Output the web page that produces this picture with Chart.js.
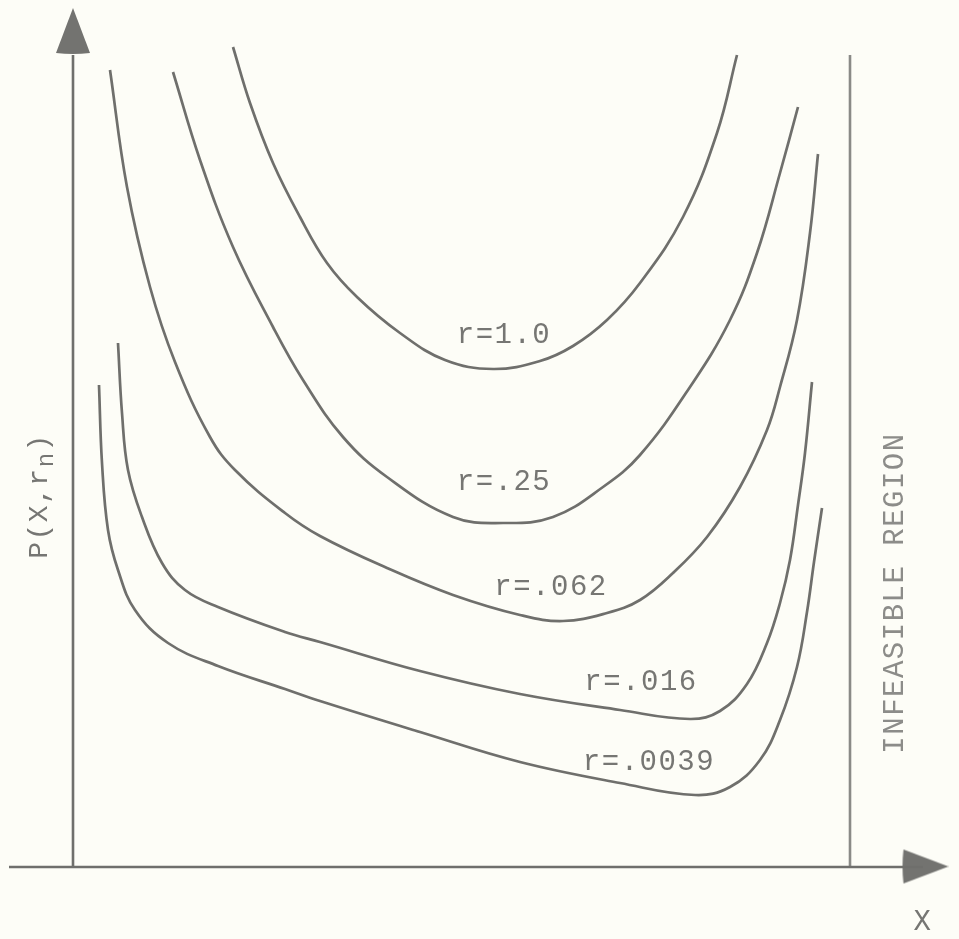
<!DOCTYPE html>
<html>
<head>
<meta charset="utf-8">
<script src="https://cdn.jsdelivr.net/npm/chart.js@4/dist/chart.umd.min.js"></script>
<style>
  html, body { margin: 0; padding: 0; background: #fdfdf7; }
  canvas { display: block; }
</style>
</head>
<body>
<canvas id="c" width="959" height="939"></canvas>
<script>
// Units: x measured from the P-axis, y measured up from the X-axis (arbitrary units, no ticks shown)
const seriesNames = ["r=1.0", "r=.25", "r=.062", "r=.016", "r=.0039"];

const xR1 = [1.60, 1.77, 2.00, 2.27, 2.54, 2.84, 3.27, 3.72, 4.20, 4.67, 5.00, 5.34, 5.67, 6.10, 6.44, 6.64];
const yR1 = [8.20, 7.64, 7.04, 6.50, 6.04, 5.70, 5.34, 5.07, 4.98, 5.06, 5.21, 5.47, 5.84, 6.50, 7.34, 8.12];

const xR25 = [1.00, 1.27, 1.60, 2.00, 2.30, 2.70, 3.14, 3.80, 4.30, 4.80, 5.30, 5.67, 6.17, 6.57, 6.84, 7.07, 7.25];
const yR25 = [7.95, 7.07, 6.20, 5.40, 4.87, 4.30, 3.90, 3.50, 3.44, 3.50, 3.80, 4.12, 4.80, 5.47, 6.14, 6.94, 7.60];

const xR062 = [0.37, 0.54, 0.77, 1.02, 1.37, 1.62, 2.12, 2.47, 3.14, 3.80, 4.47, 4.90, 5.34, 5.67, 6.00, 6.34, 6.67, 6.94, 7.07, 7.24, 7.37, 7.45];
const yR062 = [7.97, 6.80, 5.80, 5.05, 4.30, 3.97, 3.54, 3.31, 2.99, 2.72, 2.52, 2.46, 2.54, 2.67, 2.94, 3.30, 3.80, 4.37, 4.80, 5.47, 6.34, 7.13];

const xR016 = [0.45, 0.49, 0.55, 0.69, 0.89, 1.12, 1.45, 2.12, 2.47, 3.47, 4.47, 5.47, 6.17, 6.47, 6.74, 6.94, 7.07, 7.17, 7.25, 7.32, 7.39];
const yR016 = [5.24, 4.54, 3.97, 3.50, 3.04, 2.77, 2.60, 2.35, 2.25, 1.96, 1.73, 1.57, 1.48, 1.56, 1.83, 2.24, 2.64, 3.07, 3.62, 4.14, 4.85];

const xR0039 = [0.26, 0.29, 0.35, 0.45, 0.62, 0.95, 1.45, 2.12, 2.47, 3.47, 4.47, 5.47, 6.22, 6.57, 6.87, 7.07, 7.24, 7.34, 7.41, 7.49];
const yR0039 = [4.82, 4.04, 3.37, 2.97, 2.57, 2.24, 2.01, 1.78, 1.66, 1.35, 1.05, 0.84, 0.72, 0.80, 1.07, 1.47, 2.00, 2.55, 3.05, 3.59];

// curve label anchors (centre of text)
const labelX = [4.31, 4.31, 4.78, 5.68, 5.76];
const labelY = [5.32, 3.85, 2.80, 1.85, 1.05];

// axes / boundary
const boundaryX = 7.77;
const axisTop = 8.12;
const xAxisEnd = 8.50;

const lineColor = "#6f6f6c";
const textColor = "#767673";

// arrowhead image
const arrow = document.createElement("canvas");
arrow.width = 36; arrow.height = 47;
(function () {
  const a = arrow.getContext("2d");
  a.fillStyle = "#737370";
  a.beginPath();
  a.moveTo(18, 0);
  a.lineTo(35, 45);
  a.quadraticCurveTo(18, 47, 1, 45);
  a.closePath();
  a.fill();
})();

function pts(xs, ys) { return xs.map((x, i) => ({ x: x, y: ys[i] })); }

const curveData = [pts(xR1, yR1), pts(xR25, yR25), pts(xR062, yR062), pts(xR016, yR016), pts(xR0039, yR0039)];

const datasets = curveData.map((d, i) => ({
  label: seriesNames[i],
  data: d,
  showLine: true,
  borderColor: lineColor,
  borderWidth: 2.7,
  pointRadius: 0,
  tension: 0.4,
  fill: false,
  clip: false
}));

// P axis
datasets.push({ label: "yaxis", data: [{ x: 0, y: 0 }, { x: 0, y: axisTop }], showLine: true,
  borderColor: lineColor, borderWidth: 2.6, pointRadius: 0, clip: false });
// X axis
datasets.push({ label: "xaxis", data: [{ x: -0.64, y: 0 }, { x: xAxisEnd, y: 0 }], showLine: true,
  borderColor: lineColor, borderWidth: 2.6, pointRadius: 0, clip: false });
// feasibility boundary
datasets.push({ label: "boundary", data: [{ x: boundaryX, y: 0 }, { x: boundaryX, y: axisTop }], showLine: true,
  borderColor: "#8a8a87", borderWidth: 2.6, pointRadius: 0, clip: false });
// arrowheads
datasets.push({ label: "arrows", data: [{ x: 0, y: 8.355 }, { x: 8.52, y: 0.005 }], showLine: false,
  pointStyle: arrow, pointRadius: 20, pointRotation: [0, 90], clip: false });

const textPlugin = {
  id: "texts",
  afterDatasetsDraw(chart) {
    const ctx = chart.ctx, xs = chart.scales.x, ys = chart.scales.y;
    ctx.save();
    ctx.fillStyle = textColor;
    ctx.textAlign = "center";
    ctx.textBaseline = "middle";
    ctx.font = "29px 'Liberation Mono', 'DejaVu Sans Mono', monospace";
    try { ctx.letterSpacing = "1.5px"; } catch (e) {}
    seriesNames.forEach((t, i) => {
      ctx.fillText(t, xs.getPixelForValue(labelX[i]), ys.getPixelForValue(labelY[i]));
    });

    // X label
    ctx.fillText("X", xs.getPixelForValue(8.50), ys.getPixelForValue(-0.55));

    // INFEASIBLE REGION (rotated)
    ctx.save();
    ctx.translate(xs.getPixelForValue(8.22), ys.getPixelForValue(2.74));
    ctx.rotate(-Math.PI / 2);
    ctx.fillStyle = "#8c8c89";
    ctx.fillText("INFEASIBLE REGION", 0, 0);
    ctx.restore();

    // P(X,r_n) rotated with subscript
    ctx.save();
    ctx.translate(xs.getPixelForValue(-0.33), ys.getPixelForValue(3.71));
    ctx.rotate(-Math.PI / 2);
    ctx.textAlign = "left";
    ctx.font = "28px 'Liberation Mono', 'DejaVu Sans Mono', monospace";
    const p1 = "P(X,r";
    const w1 = ctx.measureText(p1).width;
    ctx.font = "24px 'Liberation Mono', 'DejaVu Sans Mono', monospace";
    const wn = ctx.measureText("n").width;
    ctx.font = "28px 'Liberation Mono', 'DejaVu Sans Mono', monospace";
    const w3 = ctx.measureText(")").width;
    let x0 = -(w1 + wn + w3) / 2;
    ctx.fillText(p1, x0, 0);
    ctx.font = "24px 'Liberation Mono', 'DejaVu Sans Mono', monospace";
    ctx.fillText("n", x0 + w1, 7);
    ctx.font = "28px 'Liberation Mono', 'DejaVu Sans Mono', monospace";
    ctx.fillText(")", x0 + w1 + wn, 0);
    ctx.restore();

    ctx.restore();
  }
};

new Chart(document.getElementById("c"), {
  type: "scatter",
  data: { datasets: datasets },
  options: {
    responsive: false,
    animation: false,
    devicePixelRatio: 1,
    layout: { autoPadding: false, padding: { left: 9, top: 8, right: 11, bottom: 72 } },
    plugins: { legend: { display: false }, tooltip: { enabled: false } },
    scales: {
      x: { type: "linear", min: -0.64, max: 8.75, display: false },
      y: { type: "linear", min: 0, max: 8.59, display: false }
    }
  },
  plugins: [textPlugin]
});
</script>
</body>
</html>
